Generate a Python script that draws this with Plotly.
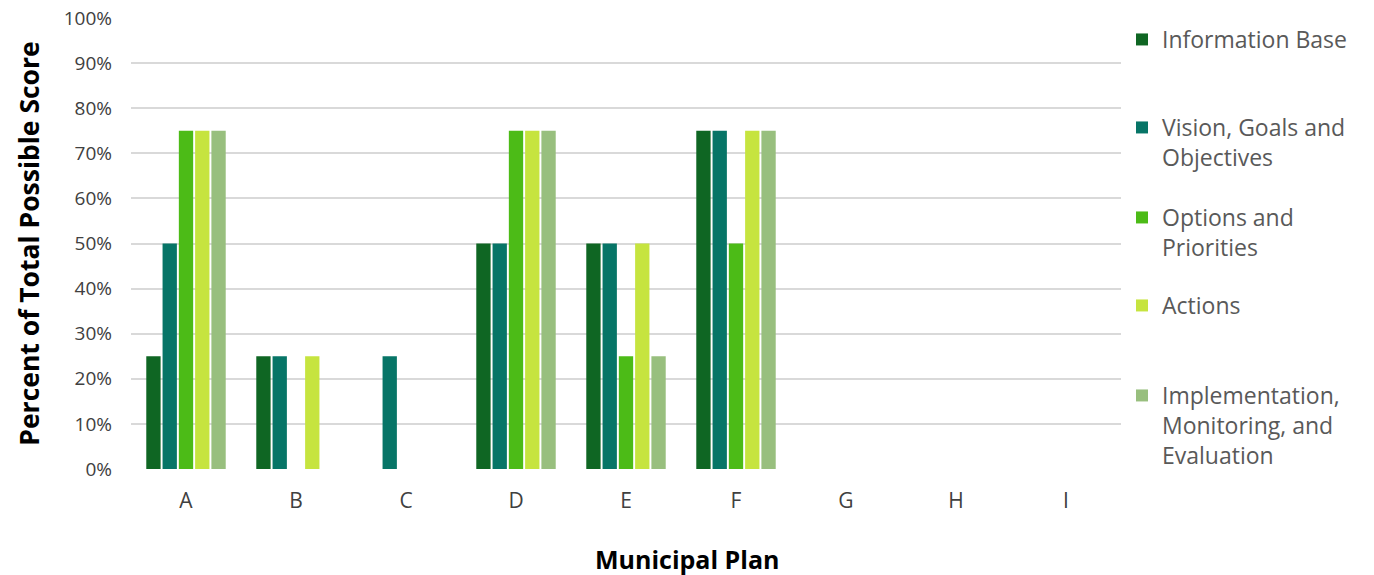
import plotly.graph_objects as go

categories = ["A", "B", "C", "D", "E", "F", "G", "H", "I"]
series_names = [
    "Information Base",
    "Vision, Goals and<br>Objectives",
    "Options and<br>Priorities",
    "Actions",
    "Implementation,<br>Monitoring, and<br>Evaluation",
]
information_base = [0.25, 0.25, 0, 0.50, 0.50, 0.75, 0, 0, 0]
vision_goals = [0.50, 0.25, 0.25, 0.50, 0.50, 0.75, 0, 0, 0]
options_priorities = [0.75, 0, 0, 0.75, 0.25, 0.50, 0, 0, 0]
actions = [0.75, 0.25, 0, 0.75, 0.50, 0.75, 0, 0, 0]
implementation = [0.75, 0, 0, 0.75, 0.25, 0.75, 0, 0, 0]
y_ticks = [i / 10 for i in range(11)]

colors = ["#0f6623", "#077567", "#4cbb17", "#c6e43f", "#98bf7e"]
values = [information_base, vision_goals, options_priorities, actions, implementation]

W, H = 1374, 575
ML, MR, MT, MB = 131, 253, 18, 106
plot_w = W - ML - MR
plot_h = H - MT - MB

legend_names = ["legend2", "legend3", "legend4", "legend5", "legend6"]
legend_top_px = [18, 106, 196, 284, 374]

fig = go.Figure()
for name, vals, col, lg in zip(series_names, values, colors, legend_names):
    fig.add_trace(go.Bar(x=categories, y=vals, name=name, marker_color=col,
                         marker_line_width=0, legend=lg))

font_family = "Open Sans, Lato, sans-serif"
layout_legends = {}
for lg, top in zip(legend_names, legend_top_px):
    layout_legends[lg] = dict(
        x=1.001, y=min(1.0, 1 - (top - MT) / plot_h), xanchor="left", yanchor="top",
        font=dict(size=23, color="#595959"), valign="top", itemwidth=30,
        bgcolor="rgba(0,0,0,0)")

fig.update_layout(
    width=W, height=H,
    margin=dict(l=ML, r=MR, t=MT, b=MB, autoexpand=False),
    plot_bgcolor="white", paper_bgcolor="white",
    barmode="group", bargap=0.26, bargroupgap=0.12,
    font=dict(family=font_family, color="#404040", size=18),
    xaxis=dict(showgrid=False, ticklabelstandoff=17, tickfont=dict(size=21)),
    yaxis=dict(range=[0, 1], tickvals=y_ticks, tickformat=".0%", gridcolor="#d9d9d9",
               gridwidth=1.5, zeroline=False, ticklabelstandoff=18, tickfont=dict(size=19)),
    **layout_legends,
)
fig.update_yaxes(title=dict(text="<b>Percent of Total Possible Score</b>",
                            font=dict(size=26.5, color="#000000"), standoff=16))
fig.add_annotation(text="<b>Municipal Plan</b>", xref="paper", yref="paper",
                   x=(W / 2 - ML) / plot_w, y=-(559 - MT - plot_h) / plot_h,
                   xanchor="center", yanchor="middle", showarrow=False,
                   font=dict(size=25, color="#000000"))
fig.write_html("out.html")
